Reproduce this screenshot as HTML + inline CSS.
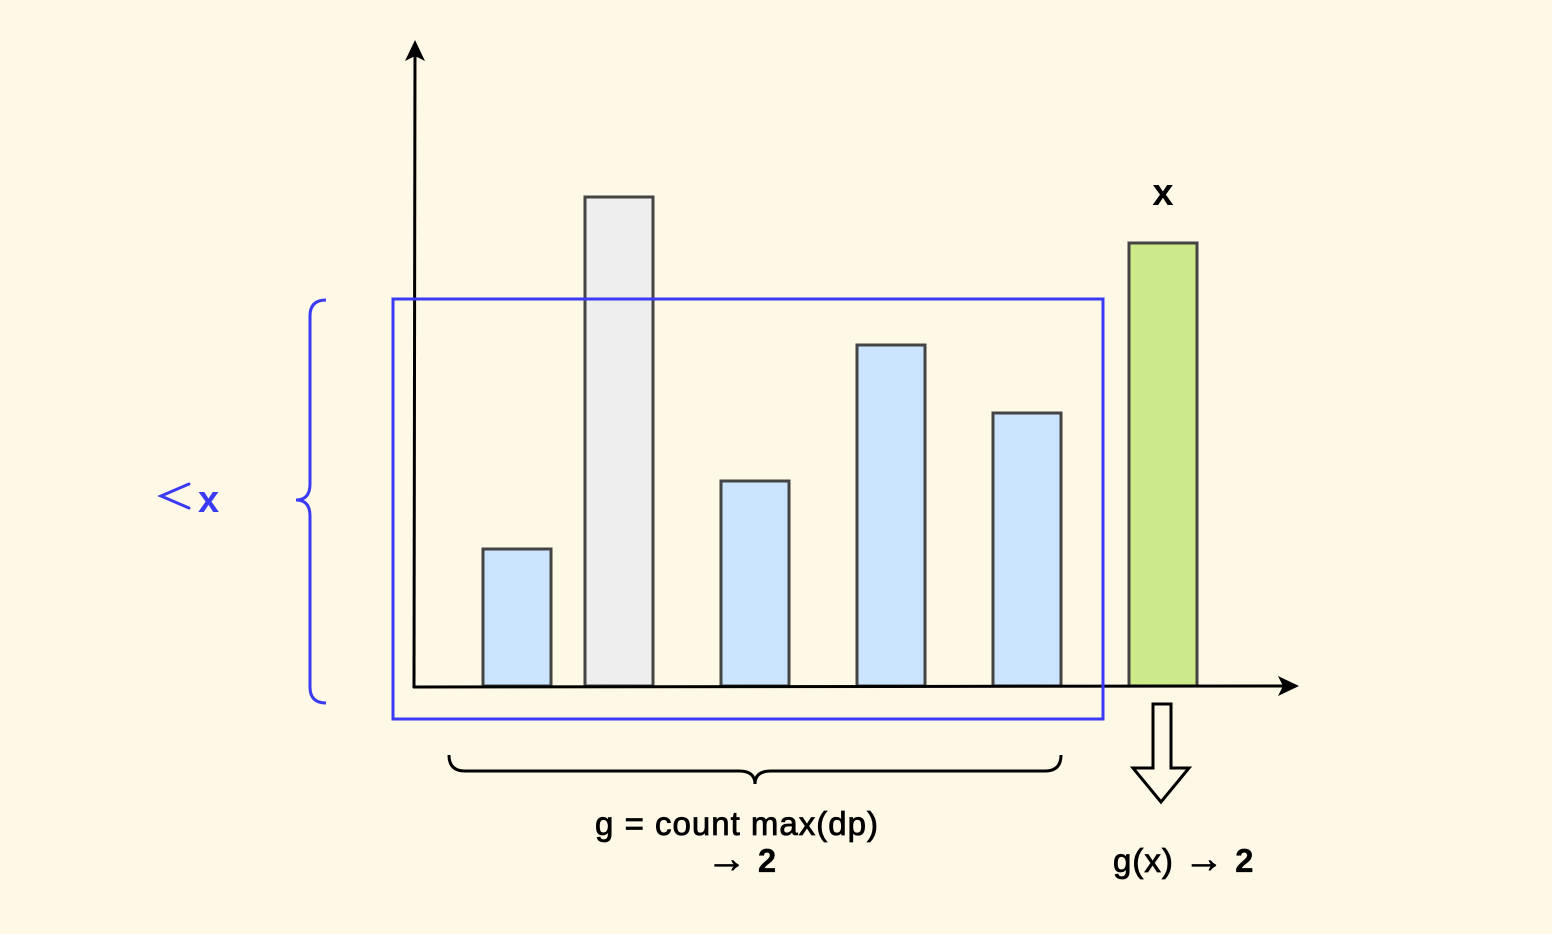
<!DOCTYPE html>
<html><head><meta charset="utf-8"><style>html,body{margin:0;padding:0;background:#fef8e7}svg{display:block}</style></head><body>
<svg width="1552" height="934" viewBox="0 0 1552 934" xmlns="http://www.w3.org/2000/svg">
<rect width="1552" height="934" fill="#fef8e7"/>
<g stroke="#444" stroke-width="3">
<rect x="483" y="549" width="68" height="137" fill="#cce5ff"/>
<rect x="585" y="197" width="68" height="489" fill="#eeeeee"/>
<rect x="721" y="481" width="68" height="205" fill="#cce5ff"/>
<rect x="857" y="345" width="68" height="341" fill="#cce5ff"/>
<rect x="993" y="413" width="68" height="273" fill="#cce5ff"/>
<rect x="1129" y="243" width="68" height="443" fill="#cdea8a"/>
</g>
<g stroke="#000" stroke-width="3" fill="none">
<line x1="414" y1="688" x2="415" y2="50"/>
<line x1="413" y1="687" x2="1288" y2="686"/>
</g>
<path d="M415 40 L405 61 L415 56 L425 61 Z" fill="#000"/>
<path d="M1299 686 L1278 676 L1283 686 L1278 696 Z" fill="#000"/>
<rect x="393" y="299" width="710" height="420" fill="none" stroke="#3b3bf5" stroke-width="3"/>
<path d="M326 300 Q310 300 310 316 L310 484 Q310 500 296 500 Q310 500 310 516 L310 687 Q310 703 326 703" fill="none" stroke="#3b3bf5" stroke-width="3"/>
<path d="M449 755 Q449 771 465 771 L739 771 Q755 771 755 784 Q755 771 771 771 L1045 771 Q1061 771 1061 755" fill="none" stroke="#000" stroke-width="3"/>
<path d="M1153 704 L1171 704 L1171 768 L1189 768 L1161 802 L1133 768 L1153 768 Z" fill="#fef8e7" stroke="#000" stroke-width="3" stroke-linejoin="miter"/>
<path d="M189 484 L161 496 L189 508" fill="none" stroke="#3b3bf5" stroke-width="3" stroke-linecap="round"/>
<g font-family="'Liberation Sans', sans-serif" font-weight="bold">
<text x="1163" y="205" font-size="38" text-anchor="middle">x</text>
<text x="198" y="512" font-size="38" fill="#3b3bf5">x</text>
<g stroke="#000" stroke-width="0.8" font-weight="normal" letter-spacing="1">
<text x="737" y="835" font-size="33" text-anchor="middle">g = count max(dp)</text>
<text x="742" y="873" font-size="33" text-anchor="middle"><tspan font-size="40" dy="-1">→</tspan> <tspan font-weight="bold" stroke-width="0.3">2</tspan></text>
<text x="1113" y="872" font-size="33">g(x) <tspan font-size="40">→</tspan> <tspan font-weight="bold" stroke-width="0.3">2</tspan></text>
</g>
</g>
</svg>
</body></html>
